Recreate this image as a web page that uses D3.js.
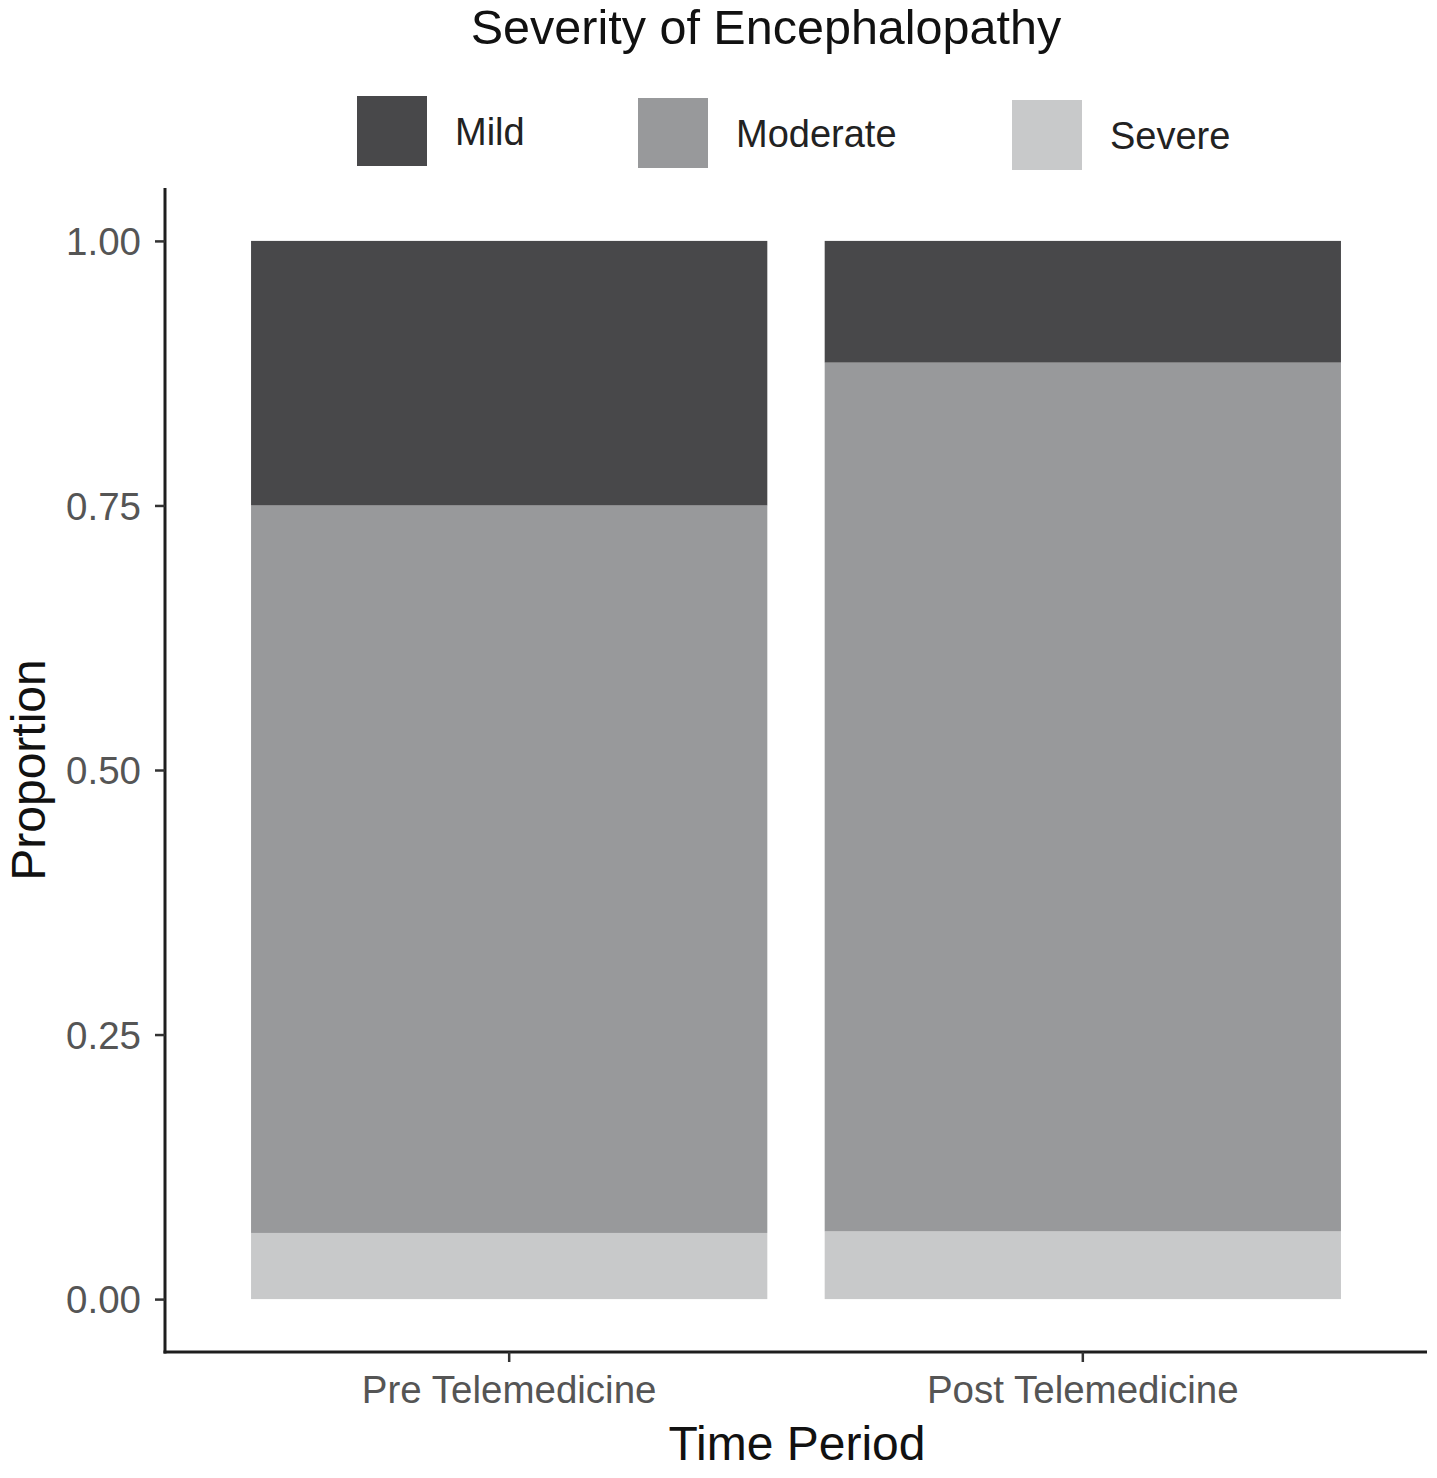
<!DOCTYPE html>
<html>
<head>
<meta charset="utf-8">
<script src="https://cdn.jsdelivr.net/npm/d3@7"></script>
<style>
  html, body { margin: 0; padding: 0; background: #fff; }
  svg { display: block; font-family: "Liberation Sans", Arial, Helvetica, sans-serif; }
</style>
</head>
<body>
<svg id="chart" width="1437" height="1478"></svg>
<script>
// ---- data ----
const categories = ["Pre Telemedicine", "Post Telemedicine"];
const severities = ["Mild", "Moderate", "Severe"];
const mildValues = [0.25, 0.115];
const moderateValues = [0.6875, 0.821];
const severeValues = [0.0625, 0.064];
const yTicks = [0, 0.25, 0.5, 0.75, 1.0];
const colors = ["#48484a", "#98999b", "#c8c9ca"];

(function () {
// ---- layout ----
const svg = d3.select("#chart");
const mLeft = 165, mRight = 1427, mTop = 188, mBottom = 1352;

const x = d3.scaleBand().domain(categories).range([mLeft, mRight])
  .paddingInner(0.1).paddingOuter(0.15);
const y = d3.scaleLinear().domain([-0.05, 1.05]).range([mBottom, mTop]);
const color = d3.scaleOrdinal().domain(severities).range(colors);

// stack: Severe at bottom, Moderate middle, Mild on top
const rows = categories.map((c, i) => ({
  cat: c, Mild: mildValues[i], Moderate: moderateValues[i], Severe: severeValues[i]
}));
const stack = d3.stack().keys(["Severe", "Moderate", "Mild"]);
const series = stack(rows);

svg.append("g").selectAll("g").data(series).join("g")
  .attr("fill", d => color(d.key))
  .selectAll("rect").data(d => d).join("rect")
  .attr("x", d => x(d.data.cat))
  .attr("width", x.bandwidth())
  .attr("y", d => y(d[1]))
  .attr("height", d => y(d[0]) - y(d[1]));

// ---- axes ----
const yAxis = svg.append("g").attr("transform", `translate(${mLeft},0)`)
  .call(d3.axisLeft(y).tickValues(yTicks).tickFormat(d3.format(".2f")).tickSize(10).tickPadding(14));
const xAxis = svg.append("g").attr("transform", `translate(0,${mBottom})`)
  .call(d3.axisBottom(x).tickSize(10).tickPadding(10));

[yAxis, xAxis].forEach(a => {
  a.select(".domain").attr("stroke", "#1e1e1e").attr("stroke-width", 3);
  a.selectAll(".tick line").attr("stroke", "#333").attr("stroke-width", 2.5);
  a.selectAll(".tick text").attr("fill", "#555").attr("font-size", 38.5)
    .attr("font-family", "'Liberation Sans', Arial, sans-serif");
});
yAxis.select(".domain").attr("d", `M0,${mTop}V${mBottom + 1.5}`);
xAxis.select(".domain").attr("d", `M${mLeft - 1.5},0H${mRight}`);
yAxis.selectAll(".tick text").attr("dy", "0.36em");
xAxis.selectAll(".tick text").attr("dy", "0.8em");

// axis titles
svg.append("text").attr("x", 797).attr("y", 1460).attr("text-anchor", "middle")
  .attr("font-size", 48).attr("fill", "#111").text("Time Period");
svg.append("text").attr("transform", "translate(45,770) rotate(-90)")
  .attr("text-anchor", "middle").attr("font-size", 48).attr("fill", "#111").text("Proportion");

// title
svg.append("text").attr("x", 766).attr("y", 44).attr("text-anchor", "middle")
  .attr("font-size", 48.5).attr("fill", "#111").text("Severity of Encephalopathy");

// legend
const legendX = [357, 638, 1012];
const legend = svg.append("g").selectAll("g").data(severities).join("g")
  .attr("transform", (d, i) => `translate(${legendX[i]},${96 + i * 2})`);
legend.append("rect").attr("width", 70).attr("height", 70).attr("fill", d => color(d));
legend.append("text").attr("x", 98).attr("y", 35).attr("dy", "0.36em")
  .attr("font-size", 38).attr("fill", "#222").text(d => d);
})();
</script>
</body>
</html>
